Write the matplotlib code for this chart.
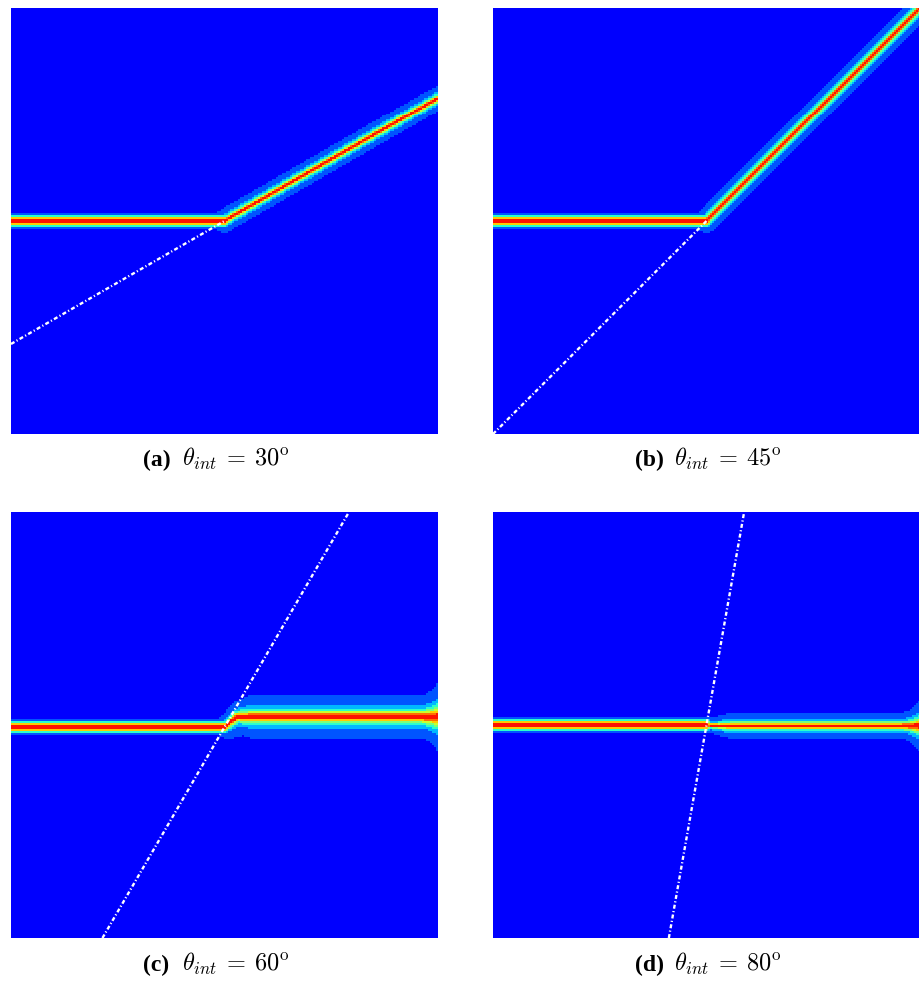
"""
Beam crossing a tilted interface: intensity maps for four interface angles.
"""
import numpy as np
import matplotlib
matplotlib.use("Agg")
import matplotlib.pyplot as plt
from matplotlib.colors import ListedColormap, BoundaryNorm

plt.rcParams["mathtext.fontset"] = "cm"

panel_tags = ["a", "b", "c", "d"]
theta_int = [30, 45, 60, 80]          # interface angle (deg)
beam_out_deg = [30, 45, 0, 0]         # direction of the transmitted beam (deg)
beam_in_y = [0.500, 0.500, 0.495, 0.500]
beam_out_shift = [0.0, 0.0, 0.024, -0.002]
kink_x = [0.50, 0.50, 0.50, 0.50]


def seg_dist(X, Y, p0, p1):
    (x0, y0), (x1, y1) = p0, p1
    dx, dy = x1 - x0, y1 - y0
    L2 = dx * dx + dy * dy
    if L2 == 0:
        return np.hypot(X - x0, Y - y0)
    t = np.clip(((X - x0) * dx + (Y - y0) * dy) / L2, 0, 1)
    return np.hypot(X - (x0 + t * dx), Y - (y0 + t * dy))


def beam_field(i, n=214):
    x = (np.arange(n) + 0.5) / n
    X, Y = np.meshgrid(x, x)
    xk, yin = kink_x[i], beam_in_y[i]
    shift = beam_out_shift[i]
    ang = np.radians(beam_out_deg[i])

    # incoming beam, gaussian profile
    d_in = seg_dist(X, Y, (0.0, yin), (xk, yin))
    I_in = np.exp(-(d_in / 0.0118) ** 2)

    # transmitted beam
    start = (xk + (0.03 if shift else 0.0), yin + shift)
    tx = (1 - start[0]) / np.cos(ang)
    ty = (1 - start[1]) / np.sin(ang) if ang > 0 else np.inf
    t = min(tx, ty)
    end = (start[0] + t * np.cos(ang), start[1] + t * np.sin(ang))
    d_out = np.minimum(seg_dist(X, Y, (xk, yin), start),
                       seg_dist(X, Y, start, end))

    if beam_out_deg[i] == theta_int[i]:
        w = 0.0068
    else:
        # beam stays on the interface: broad tail that builds up
        # past the kink and flares at the right boundary
        w_far = 0.0125 if theta_int[i] < 70 else 0.0078
        grow = np.clip((X - xk) / 0.06, 0, 1)
        flare = np.clip((X - 0.955) / 0.045, 0, 1) ** 2
        w = w_far * (0.5 + 0.5 * grow) + 0.008 * flare
    I_out = 1.0 / (1.0 + (d_out / w) ** 2)
    return np.clip(np.maximum(I_in, I_out), 0, 1)


jet = plt.get_cmap("jet")
cmap = ListedColormap(jet(np.linspace(0.11, 0.89, 9)))
levels = np.concatenate([[0.0], np.linspace(0.06, 1.0, 9)])
norm = BoundaryNorm(levels, cmap.N)

fig = plt.figure(figsize=(9.19, 9.82), dpi=100)
W, H = 919, 982
boxes = [(11, 8), (493, 8), (11, 512), (493, 512)]   # left, top in pixels
caption_x = [143, 635, 143, 635]
caption_base = [466, 466, 971, 971]
pw, ph = 427, 426

for i, tag in enumerate(panel_tags):
    lx, ty = boxes[i]
    ax = fig.add_axes([lx / W, 1 - (ty + ph) / H, pw / W, ph / H])
    field = beam_field(i)
    ax.imshow(field, extent=[0, 1, 0, 1], origin="lower", cmap=cmap,
              norm=norm, interpolation="nearest", aspect="auto")

    # interface line through the kink
    xk, yin = kink_x[i], beam_in_y[i]
    s = np.tan(np.radians(theta_int[i]))
    x_lo = max(0.0, xk - yin / s)
    p_lo = (x_lo, yin + (x_lo - xk) * s)
    if beam_out_deg[i] == theta_int[i]:
        xs, ys = [p_lo[0], xk], [p_lo[1], yin]
    else:
        x_hi = min(1.0, xk + (1 - yin) / s)
        xs, ys = [p_lo[0], x_hi], [p_lo[1], yin + (x_hi - xk) * s]
    ax.plot(xs, ys, color="white", lw=1.7, linestyle=(0, (1.7, 1.0, 0.5, 1.0)))
    ax.set_xlim(0, 1)
    ax.set_ylim(0, 1)
    ax.axis("off")

    cx, cb = caption_x[i], 1 - caption_base[i] / H
    fig.text(cx / W, cb, "(%s)" % tag, ha="left", va="baseline",
             fontsize=17, fontweight="bold", family="Liberation Serif")
    fig.text((cx + 39) / W, cb,
             r"$\theta_{int}\:=\:%d^{\rm o}$" % theta_int[i],
             ha="left", va="baseline", fontsize=17.5)

fig.savefig("out.png", dpi=100)
